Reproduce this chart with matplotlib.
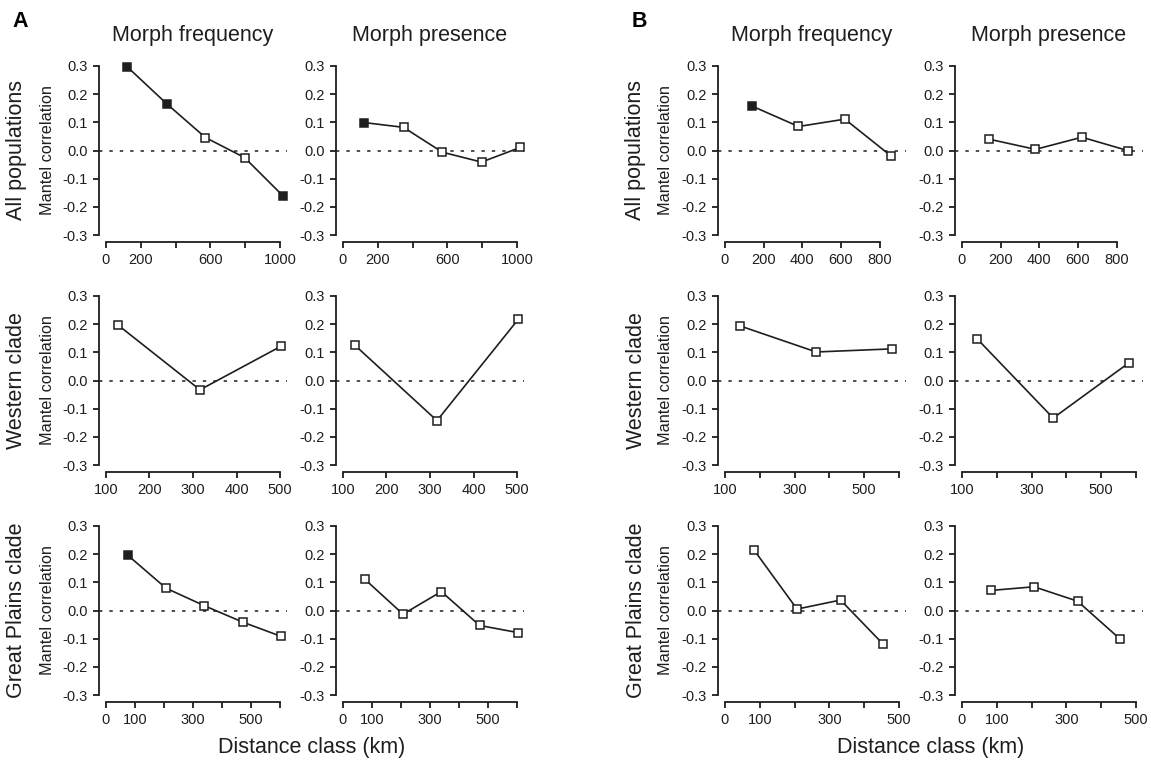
import matplotlib
matplotlib.use('Agg')
import matplotlib.pyplot as plt

plt.rcParams['font.family'] = ['Liberation Sans', 'DejaVu Sans']
plt.rcParams['axes.unicode_minus'] = False

# distance classes (km) and Mantel correlations
dist_a_all = [121, 348, 571, 796, 1019]
freq_a_all = [0.297, 0.166, 0.046, -0.025, -0.162]
pres_a_all = [0.099, 0.082, -0.006, -0.041, 0.011]
sig_freq_a_all = [1, 1, 0, 0, 1]
sig_pres_a_all = [1, 0, 0, 0, 0]

dist_a_west = [128, 316, 503]
freq_a_west = [0.196, -0.033, 0.122]
pres_a_west = [0.124, -0.142, 0.217]
sig_freq_a_west = [0, 0, 0]
sig_pres_a_west = [0, 0, 0]

dist_a_gp = [76, 207, 339, 471, 602]
freq_a_gp = [0.195, 0.079, 0.017, -0.041, -0.091]
pres_a_gp = [0.110, -0.013, 0.067, -0.053, -0.078]
sig_freq_a_gp = [1, 0, 0, 0, 0]
sig_pres_a_gp = [0, 0, 0, 0, 0]

dist_b_all = [141, 380, 620, 856]
freq_b_all = [0.157, 0.085, 0.111, -0.018]
pres_b_all = [0.040, 0.004, 0.047, 0.000]
sig_freq_b_all = [1, 0, 0, 0]
sig_pres_b_all = [0, 0, 0, 0]

dist_b_west = [144, 362, 580]
freq_b_west = [0.193, 0.101, 0.112]
pres_b_west = [0.147, -0.133, 0.063]
sig_freq_b_west = [0, 0, 0]
sig_pres_b_west = [0, 0, 0]

dist_b_gp = [83, 207, 332, 455]
freq_b_gp = [0.215, 0.005, 0.037, -0.120]
pres_b_gp = [0.071, 0.084, 0.033, -0.102]
sig_freq_b_gp = [0, 0, 0, 0]
sig_pres_b_gp = [0, 0, 0, 0]

row_names = ['All populations', 'Western clade', 'Great Plains clade']
col_names = ['Morph frequency', 'Morph presence']
y_ticks = [-0.3, -0.2, -0.1, 0.0, 0.1, 0.2, 0.3]

# x axis setup per panel group: (range, ticks, labels)
x_a_all = ((0, 1000), [0, 200, 400, 600, 800, 1000], ['0', '200', '', '600', '', '1000'])
x_a_west = ((100, 500), [100, 200, 300, 400, 500], ['100', '200', '300', '400', '500'])
x_a_gp = ((0, 600), [0, 100, 200, 300, 400, 500, 600], ['0', '100', '', '300', '', '500', ''])
x_b_all = ((0, 900), [0, 200, 400, 600, 800], ['0', '200', '400', '600', '800'])
x_b_west = ((100, 600), [100, 200, 300, 400, 500, 600], ['100', '', '300', '', '500', ''])
x_b_gp = ((0, 500), [0, 100, 200, 300, 400, 500], ['0', '100', '', '300', '', '500'])

W, H = 1151, 761
INK = '#1e1e1e'


def draw_panel(ax, dist, values, sig, xspec):
    (x0, x1), ticks, labels = xspec
    pad = 0.04 * (x1 - x0)
    ax.set_xlim(x0 - pad, x1 + pad)
    ax.set_ylim(-0.324, 0.324)
    ax.axhline(0, color=INK, lw=1.1, ls=(0, (2.2, 4.6)), zorder=1)
    ax.plot(dist, values, color=INK, lw=1.2, zorder=2)
    for x, y, s in zip(dist, values, sig):
        ax.plot(x, y, marker='s', ms=5.2, mew=1.1, mec=INK,
                mfc=INK if s else 'white', zorder=3)

    for side in ['top', 'right']:
        ax.spines[side].set_visible(False)
    for side in ['left', 'bottom']:
        ax.spines[side].set_color(INK)
        ax.spines[side].set_linewidth(1.3)
    ax.spines['left'].set_bounds(-0.3, 0.3)
    ax.spines['bottom'].set_bounds(ticks[0], ticks[-1])

    ax.set_yticks(y_ticks)
    ax.set_yticklabels(['%.1f' % v for v in y_ticks])
    ax.set_xticks(ticks)
    ax.set_xticklabels(labels)
    ax.tick_params('both', direction='out', length=4.5, width=1.3,
                   colors=INK, labelsize=10.5, pad=3.5)
    ax.patch.set_visible(False)


def main():
    fig = plt.figure(figsize=(W / 100, H / 100), dpi=100)

    col_left = [99, 336, 718, 955]
    row_top = [59, 289, 519]
    pw, ph = 188, 183

    panels = [
        [(dist_a_all, freq_a_all, sig_freq_a_all, x_a_all),
         (dist_a_all, pres_a_all, sig_pres_a_all, x_a_all),
         (dist_b_all, freq_b_all, sig_freq_b_all, x_b_all),
         (dist_b_all, pres_b_all, sig_pres_b_all, x_b_all)],
        [(dist_a_west, freq_a_west, sig_freq_a_west, x_a_west),
         (dist_a_west, pres_a_west, sig_pres_a_west, x_a_west),
         (dist_b_west, freq_b_west, sig_freq_b_west, x_b_west),
         (dist_b_west, pres_b_west, sig_pres_b_west, x_b_west)],
        [(dist_a_gp, freq_a_gp, sig_freq_a_gp, x_a_gp),
         (dist_a_gp, pres_a_gp, sig_pres_a_gp, x_a_gp),
         (dist_b_gp, freq_b_gp, sig_freq_b_gp, x_b_gp),
         (dist_b_gp, pres_b_gp, sig_pres_b_gp, x_b_gp)],
    ]

    for r, top in enumerate(row_top):
        for c, left in enumerate(col_left):
            ax = fig.add_axes([left / W, 1 - (top + ph) / H, pw / W, ph / H])
            draw_panel(ax, *panels[r][c])

    # text around the panels
    for c, left in enumerate(col_left):
        fig.text((left + pw / 2) / W, 1 - 41 / H, col_names[c % 2],
                 ha='center', va='baseline', fontsize=15.5, color=INK)

    for r, top in enumerate(row_top):
        yc = 1 - (top + ph / 2) / H
        for left in [col_left[0], col_left[2]]:
            fig.text((left - 82) / W, yc, row_names[r], rotation=90,
                     ha='center', va='center', fontsize=15.5, color=INK)
            fig.text((left - 52) / W, yc, 'Mantel correlation', rotation=90,
                     ha='center', va='center', fontsize=11.7, color=INK)

    fig.text(12 / W, 1 - 27 / H, 'A', fontsize=15.5, fontweight='bold',
             ha='left', va='baseline', color='black')
    fig.text(632 / W, 1 - 27 / H, 'B', fontsize=15.5, fontweight='bold',
             ha='left', va='baseline', color='black')

    for left, right in [(col_left[0], col_left[1] + pw), (col_left[2], col_left[3] + pw)]:
        fig.text((left + right) / 2 / W, 1 - 753 / H, 'Distance class (km)',
                 ha='center', va='baseline', fontsize=15.5, color=INK)

    fig.savefig('out.png', dpi=100, facecolor='white')


if __name__ == '__main__':
    main()
